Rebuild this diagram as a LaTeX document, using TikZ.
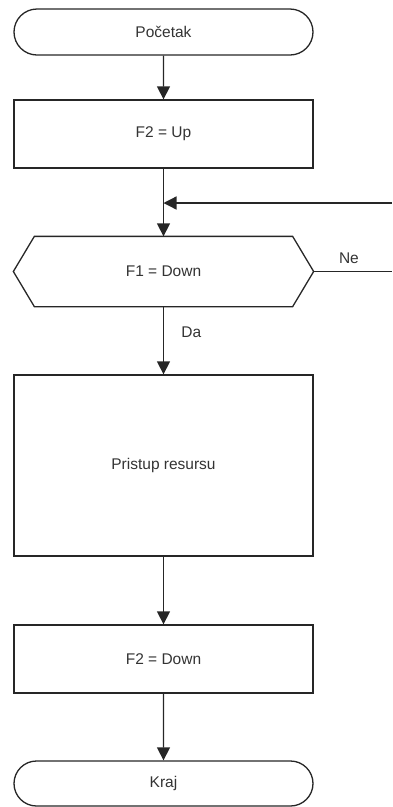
\documentclass[tikz,border=0pt]{standalone}
\usepackage{fontspec}
\setmainfont{Liberation Sans}
\usetikzlibrary{arrows.meta,shapes.misc}
\begin{document}
\begin{tikzpicture}[x=1pt,y=-1pt,
  line width=1.3pt,
  every node/.style={font=\fontsize{15.5}{18}\selectfont, text=black!80},
  terminal/.style={draw=black!85, rounded rectangle, minimum width=299pt, minimum height=46pt, inner sep=0pt},
  process/.style={draw=black!85, rectangle, minimum width=299pt, inner sep=0pt},
  flow/.style={draw=black!85, -{Triangle[width=13pt,length=13pt]}},
  plain/.style={draw=black!85}]
\useasboundingbox (0,0) rectangle (392,807);
\node[terminal] (start) at (163.5,32) {Početak};
\node[process, minimum height=68pt] (up) at (163.5,134) {F2 = Up};
\coordinate (join) at (163.5,203);
\coordinate (loopin) at (392,203);
% decision hexagon, outline drawn as a path around the text node
\node[minimum width=299pt, minimum height=69pt, inner sep=0pt] (dec) at (163.5,271.5) {F1 = Down};
\draw[plain] (dec.west) -- ([xshift=21pt]dec.north west) -- ([xshift=-21pt]dec.north east)
  -- (dec.east) -- ([xshift=-21pt]dec.south east) -- ([xshift=21pt]dec.south west) -- cycle;
\coordinate (loopout) at (392,271.5);
\node[process, minimum height=181pt] (res) at (163.5,465.5) {Pristup resursu};
\node[process, minimum height=68pt] (down) at (163.5,659) {F2 = Down};
\node[terminal, minimum height=45pt] (end) at (163.5,783.5) {Kraj};

\draw[flow] (start) -- (up);
\draw[flow] (up) -- (dec.north);
\draw[flow] (loopin) -- (join);
\draw[plain] (dec.east) -- node[above=4pt, pos=0.45] (ne) {Ne} (loopout);
\draw[flow] (dec.south) -- node[right=14pt, pos=0.38] (da) {Da} (res);
\draw[flow] (res) -- (down);
\draw[flow] (down) -- (end);
\end{tikzpicture}
\end{document}
